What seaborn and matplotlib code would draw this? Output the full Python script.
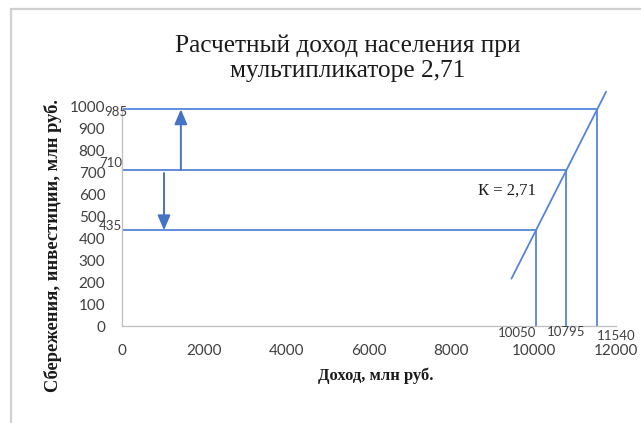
import matplotlib
matplotlib.use("Agg")
import matplotlib.pyplot as plt
import seaborn as sns
import pandas as pd
from matplotlib.lines import Line2D

# ---- data ----
income = [10050, 10795, 11540]          # equilibrium incomes
level = [435, 710, 985]                 # savings / investment levels
slope_x = [9460, 11760]                 # savings line K = 2,71
slope_y = [215, 1065]
x_ticks = [0, 2000, 4000, 6000, 8000, 10000, 12000]
y_ticks = [0, 100, 200, 300, 400, 500, 600, 700, 800, 900, 1000]
arrow_up = (1430, 710, 985)
arrow_down = (1020, 695, 435)

title_lines = ["Расчетный доход населения при", "мультипликаторе 2,71"]
xlabel = "Доход, млн руб."
ylabel = "Сбережения, инвестиции, млн руб."
k_label = "К = 2,71"

sns.set_theme(style="white")
plt.rcParams["font.family"] = ["Lato", "DejaVu Sans"]

W, H = 641, 423
fig = plt.figure(figsize=(W / 100, H / 100), dpi=100)
ax = fig.add_axes([122 / W, 1 - 326 / H, (616 - 122) / W, (326 - 106) / H])

line_col = "#5585DA"
arrow_col = "#4472C4"

df = pd.DataFrame({"x": slope_x, "y": slope_y})
sns.lineplot(data=df, x="x", y="y", ax=ax, color=line_col, lw=1.3, clip_on=False)
for xi, yi in zip(income, level):
    ax.hlines(yi, 0, xi, color=line_col, lw=1.3)
    ax.vlines(xi, 0, yi, color=line_col, lw=1.3)

ax.set_xlim(0, 12000)
ax.set_ylim(0, 1000)
ax.set_xticks(x_ticks)
ax.set_yticks(y_ticks)
ax.set_xticklabels([str(v) for v in x_ticks], fontsize=11, color="#404040")
ax.set_yticklabels([str(v) for v in y_ticks], fontsize=11, color="#404040")
ax.tick_params(axis="x", length=4, width=0.8, color="#bfbfbf", direction="inout", pad=11)
ax.tick_params(axis="y", length=6, width=0.8, color="#bfbfbf", direction="out", pad=6)
for s in ["top", "right"]:
    ax.spines[s].set_visible(False)
for s in ["left", "bottom"]:
    ax.spines[s].set_color("#bfbfbf")
    ax.spines[s].set_linewidth(0.9)

ax.set_xlabel(xlabel, fontsize=12, fontweight="bold", family="Liberation Serif", color="#1a1a1a")
ax.xaxis.set_label_coords((376 - 122) / 494, -(376 - 326) / 220)
ax.set_ylabel(ylabel, fontsize=13.3, fontweight="bold", family="Liberation Serif", color="#1a1a1a")
ax.yaxis.set_label_coords((53 - 122) / 494, (326 - 246) / 220)
ax.yaxis.label.set_va("center")
ax.xaxis.label.set_va("center")

# value labels on y axis
y_lab_x = [-270, -270, -145]
y_lab_dy = [18, 30, -12]
for xv, yi, dy in zip(y_lab_x, level, y_lab_dy):
    ax.text(xv, yi + dy, str(yi), fontsize=9.5, ha="center", va="center", color="#404040")
# value labels on x axis
x_al = ["right", "center", "left"]
x_off = [20, 0, -10]
x_dy = [-1, 0, -3]
for xi, al, off, dy in zip(income, x_al, x_off, x_dy):
    ax.annotate(str(xi), (xi + off, 0), xytext=(0, dy), textcoords="offset points",
                ha=al, va="top", fontsize=9.5, color="#404040", annotation_clip=False)

# arrows
for (xa, y0, y1) in [arrow_up, arrow_down]:
    ax.annotate("", xy=(xa, y1), xytext=(xa, y0),
                arrowprops=dict(arrowstyle="-|>,head_length=0.75,head_width=0.32",
                                color=arrow_col, lw=1.4, shrinkA=0, shrinkB=0))

ax.text(9345, 614, k_label, fontsize=12, family="Liberation Serif", ha="center", va="center", color="#1a1a1a")

for txt, base in zip(title_lines, [52, 77]):
    fig.text(348 / W, 1 - base / H, txt, fontsize=18.3, family="Liberation Serif",
             ha="center", va="baseline", color="#1a1a1a")

# page border
fig.add_artist(Line2D([11 / W, 1], [1 - 9 / H, 1 - 9 / H], transform=fig.transFigure, color="#d0d0d0", lw=1.6))
fig.add_artist(Line2D([11 / W, 11 / W], [1 - 9 / H, 0], transform=fig.transFigure, color="#d0d0d0", lw=1.6))

fig.savefig("out.png", dpi=100)
